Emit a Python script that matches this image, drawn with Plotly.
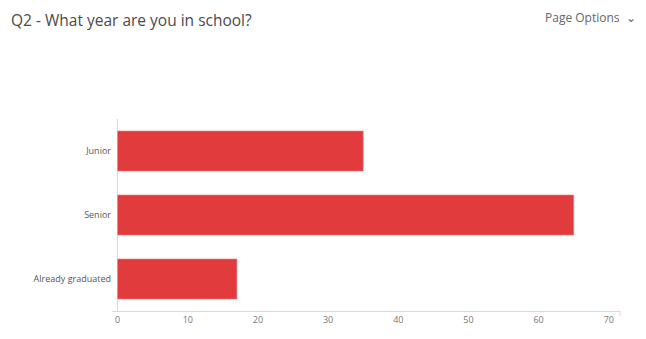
import plotly.graph_objects as go

categories = ["Junior", "Senior", "Already graduated"]
counts = [35, 65, 17]
tick_values = [0, 10, 20, 30, 40, 50, 60, 70]

# The page body has an 8px margin, so the figure is drawn 8px smaller and offset.
W, H = 638, 331
L, R, T, B = 104, 26, 111, 28
PW, PH = W - L - R, H - T - B

fig = go.Figure()
fig.add_trace(go.Bar(
    y=categories, x=counts, orientation="h",
    marker=dict(color="#E13B3E", line=dict(color="#EE7A7C", width=0.6)),
    hoverinfo="x+y",
))

fig.update_layout(
    width=W, height=H,
    margin=dict(l=L, r=R, t=T, b=B),
    paper_bgcolor="white", plot_bgcolor="white",
    font=dict(family="Open Sans, Roboto, sans-serif", color="#555"),
    bargap=0.375,
    showlegend=False,
    xaxis=dict(
        range=[-0.8, 71.6], tickvals=tick_values, ticktext=[str(v) for v in tick_values],
        showgrid=False, zeroline=True, zerolinecolor="#DADADA", zerolinewidth=1,
        showline=True, linecolor="#DADADA", linewidth=1, ticks="",
        tickfont=dict(size=9, color="#777"), fixedrange=True,
    ),
    yaxis=dict(
        categoryorder="array", categoryarray=categories[::-1],
        showgrid=False, zeroline=False, showline=False, ticks="",
        ticklabelstandoff=0,
        tickfont=dict(size=9, color="#555"), fixedrange=True,
    ),
)

fig.add_annotation(text="Q2 - What year are you in school?", xref="paper", yref="paper",
                   x=(2 - L) / PW, y=1 + T / PH, xanchor="left", yanchor="top",
                   borderpad=0, showarrow=False, font=dict(size=15.5, color="#4a4a4a"))
fig.add_annotation(text="Page Options  \u2304", xref="paper", yref="paper",
                   x=(629 - L) / PW, y=1 + T / PH, xanchor="right", yanchor="top",
                   borderpad=0, showarrow=False, font=dict(size=12, color="#666"))
# small end tick at right end of axis
fig.add_shape(type="line", xref="paper", yref="paper", x0=1, x1=1, y0=0, y1=-0.025,
              line=dict(color="#DADADA", width=1))

fig.write_html("out.html")
